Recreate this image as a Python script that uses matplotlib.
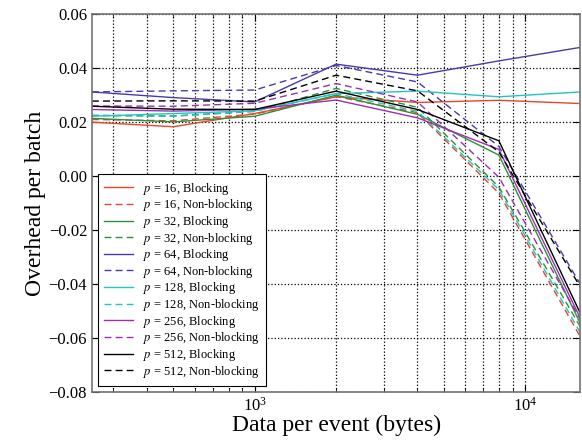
import matplotlib
matplotlib.use("Agg")
import matplotlib.pyplot as plt
from matplotlib.ticker import LogLocator, NullFormatter

plt.rcParams['font.family'] = ['Liberation Serif', 'DejaVu Serif']
plt.rcParams['mathtext.fontset'] = 'stix'

# data per event (bytes)
sizes = [250, 500, 1000, 2000, 4000, 8000, 16000]

# overhead per batch
p16_block    = [0.0200, 0.0183, 0.0232, 0.0294, 0.0273, 0.0281, 0.0269]
p16_nonblock = [0.0210, 0.0205, 0.0230, 0.0295, 0.0235, -0.0063, -0.0595]
p32_block    = [0.0214, 0.0201, 0.0222, 0.0300, 0.0229, 0.0078, -0.0545]
p32_nonblock = [0.0225, 0.0223, 0.0240, 0.0325, 0.0255, -0.0040, -0.0558]
p64_block    = [0.0312, 0.0291, 0.0275, 0.0415, 0.0374, 0.0427, 0.0477]
p64_nonblock = [0.0312, 0.0316, 0.0319, 0.0410, 0.0349, 0.0110, -0.0400]
p128_block    = [0.0222, 0.0232, 0.0242, 0.0306, 0.0315, 0.0294, 0.0312]
p128_nonblock = [0.0225, 0.0222, 0.0240, 0.0306, 0.0240, -0.0050, -0.0580]
p256_block    = [0.0247, 0.0241, 0.0248, 0.0282, 0.0216, 0.0099, -0.0526]
p256_nonblock = [0.0260, 0.0259, 0.0270, 0.0343, 0.0275, -0.0004, -0.0530]
p512_block    = [0.0259, 0.0248, 0.0247, 0.0315, 0.0247, 0.0131, -0.0508]
p512_nonblock = [0.0278, 0.0279, 0.0278, 0.0374, 0.0316, 0.0090, -0.0410]

series = [
    (16, p16_block, p16_nonblock, '#e8452c'),
    (32, p32_block, p32_nonblock, '#2f8f3a'),
    (64, p64_block, p64_nonblock, '#4a3aa8'),
    (128, p128_block, p128_nonblock, '#22c4c4'),
    (256, p256_block, p256_nonblock, '#9b30b0'),
    (512, p512_block, p512_nonblock, '#000000'),
]

fig = plt.figure(figsize=(5.82, 4.44), dpi=100)
ax = fig.add_axes([0.158, 0.117, 0.839, 0.851])

for p, blk, nblk, col in series:
    ax.plot(sizes, blk, '-', color=col, lw=1.0, label=f'$p$ = {p}, Blocking')
    ax.plot(sizes, nblk, '--', color=col, lw=1.0, dashes=(5, 3),
            label=f'$p$ = {p}, Non-blocking')

ax.set_xscale('log')
ax.set_xlim(250, 16000)
ax.set_ylim(-0.08, 0.06)
ax.set_yticks([-0.08, -0.06, -0.04, -0.02, 0.00, 0.02, 0.04, 0.06])
ax.xaxis.set_minor_locator(LogLocator(base=10, subs=range(2, 10)))
ax.xaxis.set_minor_formatter(NullFormatter())

ax.grid(True, which='major', color='k', linestyle=':', linewidth=0.9)
ax.grid(True, which='minor', axis='x', color='k', linestyle=':', linewidth=0.9)

ax.tick_params(which='both', direction='in', top=True, right=True, labelsize=12)
ax.tick_params(which='major', length=5)
ax.tick_params(which='minor', length=3)
for s in ax.spines.values():
    s.set_color('0.45')
    s.set_linewidth(1.2)

ax.set_xlabel('Data per event (bytes)', fontsize=17, labelpad=0)
ax.set_ylabel('Overhead per batch', fontsize=17, labelpad=2)

leg = ax.legend(loc='lower left', fontsize=9, frameon=True, fancybox=False,
                edgecolor='k', framealpha=1, handlelength=2.3,
                labelspacing=0.05, borderpad=0.5, bbox_to_anchor=(0.0, 0.0))
leg.get_frame().set_linewidth(0.8)

plt.savefig('out.png', dpi=100)
